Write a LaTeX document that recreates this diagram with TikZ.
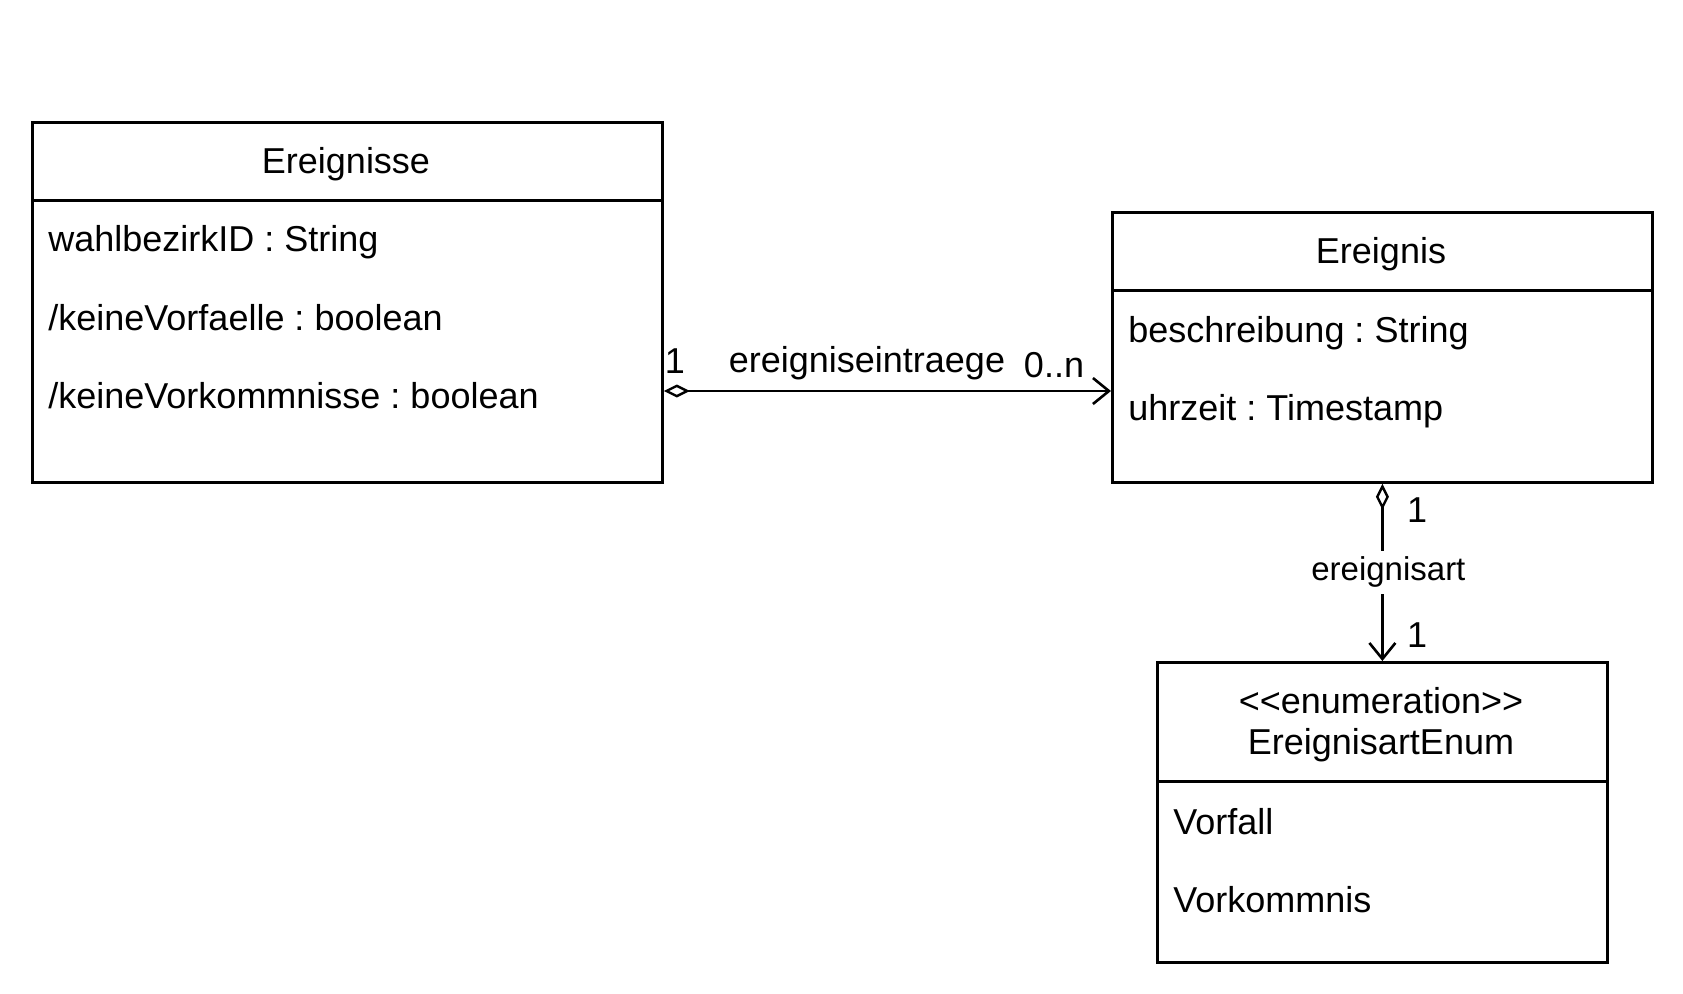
\documentclass[tikz,border=0pt]{standalone}
\usepackage{fontspec}
\setmainfont{Liberation Sans}
\usetikzlibrary{arrows.meta,positioning}
\def\umlfont{\fontsize{18}{20.5}\selectfont\frenchspacing}

\begin{document}
\begin{tikzpicture}[x=0.5pt,y=-0.5pt,
    classbox/.style={draw,line width=1.4pt,inner sep=0pt,anchor=north west},
    title/.style={inner sep=0pt,align=center,font=\umlfont},
    attr/.style={anchor=west,inner sep=0pt,font=\umlfont},
    mult/.style={inner sep=0pt,font=\umlfont},
    agg/.style={line width=1.3pt,{Diamond[open,length=13pt,width=6.5pt,line width=1.2pt]}-{Straight Barb[length=8pt,width=13pt,line width=1.3pt]}}]
  \useasboundingbox (0,0) rectangle (1683,993);
  % Ereignisse
  \node[classbox,minimum width=315pt,minimum height=39pt] (ereignisseHead) at (31,121) {};
  \node[classbox,minimum width=315pt,minimum height=141pt] (ereignisseBody) at (31,199) {};
  \node[title] (ereignisseTitle) at (346,164) {Ereignisse};
  \node[attr] (wahlbezirk) at (48,242) {wahlbezirkID : String};
  \node[attr] (vorfaelle) at (48,318) {/keineVorfaelle : boolean};
  \node[attr] (vorkommnisse) at (48,396) {/keineVorkommnisse : boolean};
  % Ereignis
  \node[classbox,minimum width=270pt,minimum height=39pt] (ereignisHead) at (1111,211) {};
  \node[classbox,minimum width=270pt,minimum height=96pt] (ereignisBody) at (1111,289) {};
  \node[title] (ereignisTitle) at (1381,254) {Ereignis};
  \node[attr] (beschreibung) at (1128,333) {beschreibung : String};
  \node[attr] (uhrzeit) at (1128,411) {uhrzeit : Timestamp};
  % EreignisartEnum
  \node[classbox,minimum width=225pt,minimum height=59.5pt] (enumHead) at (1156,661) {};
  \node[classbox,minimum width=225pt,minimum height=90.5pt] (enumBody) at (1156,780) {};
  \node[title] (enumTitle) at (1381,725) {<{}<enumeration>{}>\\EreignisartEnum};
  \node[attr] (vorfall) at (1173,822) {Vorfall};
  \node[attr] (vorkommnis) at (1173,900) {Vorkommnis};
  % associations
  \coordinate (eintragY) at (0,391);
  \draw[agg] (ereignisseBody.east |- eintragY) -- (ereignisBody.west |- eintragY);
  \node[mult] (m1) at (675,361) {1};
  \node[mult] (eintraege) at (867,363) {ereigniseintraege};
  \node[mult] (m0n) at (1054,365) {0..n};
  \draw[agg] (ereignisBody.south) -- node[fill=white,inner xsep=1pt,inner ysep=3pt,xshift=3pt,font=\fontsize{16.5}{18}\selectfont] (artLabel) {ereignisart} (enumHead.north);
  \node[mult] (m1top) at (1417,510) {1};
  \node[mult] (m1bot) at (1417,635) {1};
\end{tikzpicture}
\end{document}
